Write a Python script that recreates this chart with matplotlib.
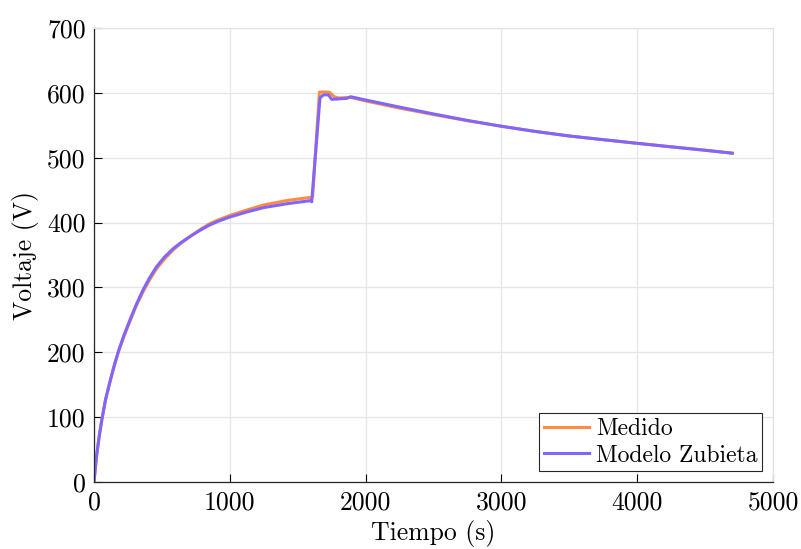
import numpy as np
import matplotlib
matplotlib.use("Agg")
import matplotlib.pyplot as plt

# valores (carga)
t_carga = [0, 10, 20, 38, 57, 85, 118, 148, 179, 220, 265, 310, 363, 410,
           461, 520, 584, 640, 707, 780, 849, 920, 1000, 1120, 1247, 1420, 1600]
v_carga_modelo = [0, 22, 42, 70, 95, 127, 155, 179, 201, 226, 250, 273, 297,
                  315, 332, 347, 360, 369, 378.5, 388, 396, 402.5, 408.5, 416,
                  423, 429, 434]
v_carga_medido = [0, 22, 42, 70, 95, 127, 155, 178, 200, 224, 248, 271, 294,
                  312, 329, 344, 358, 368, 378.5, 389, 398, 404.5, 411, 419,
                  427, 434, 439]

# pico y descarga
t_desc_modelo = [1603, 1664, 1689, 1726, 1750, 1861, 1890, 2000, 2250, 2500,
                 2750, 3000, 3250, 3500, 3750, 4000, 4250, 4500, 4700]
v_desc_modelo = [432, 592, 597, 597, 590, 591.5, 594, 589, 578, 567.5,
                 557.5, 548.5, 540.5, 533.5, 527.8, 522.2, 516.8, 511.5, 507]
t_desc_medido = [1610, 1660, 1690, 1733, 1770, 1800, 1890, 2000, 2250, 2500,
                 2750, 3000, 3250, 3500, 3750, 4000, 4250, 4500, 4700]
v_desc_medido = [440, 601, 601.5, 601, 594, 592, 593, 587.5, 576.5, 566.5,
                 557, 548.5, 540.5, 533.5, 527.8, 522.2, 516.8, 511.5, 507]

t_medido = t_carga + t_desc_medido
v_medido = v_carga_medido + v_desc_medido
t_modelo = t_carga + t_desc_modelo
v_modelo = v_carga_modelo + v_desc_modelo

plt.rcParams['font.family'] = 'serif'
plt.rcParams['font.serif'] = ['cmr10']
plt.rcParams['mathtext.fontset'] = 'cm'
plt.rcParams['axes.unicode_minus'] = False

fig = plt.figure(figsize=(8.01, 5.49), dpi=100)
ax = fig.add_axes([94/801, 67/549, 679/801, 454/549])

ax.plot(t_medido, v_medido, color='#FF8C40', lw=2.2, label='Medido')
ax.plot(t_modelo, v_modelo, color='#8066FF', lw=2.2, label='Modelo Zubieta')

ax.set_xlim(0, 5000)
ax.set_ylim(0, 700)
ax.set_xticks(np.arange(0, 5001, 1000))
ax.set_yticks(np.arange(0, 701, 100))
ax.grid(True, color='#e6e6e6', lw=0.9)
ax.set_axisbelow(True)
ax.tick_params(direction='in', length=6, width=0.8, labelsize=18.5, pad=6)
for s in ['top', 'right']:
    ax.spines[s].set_color('#e0e0e0')
for s in ['left', 'bottom']:
    ax.spines[s].set_color('#262626')
    ax.spines[s].set_linewidth(0.9)

ax.set_xlabel('Tiempo (s)', fontsize=18.5, labelpad=4)
ax.set_ylabel('Voltaje (V)', fontsize=18.5, labelpad=6)

leg = ax.legend(loc='lower right', fontsize=17, fancybox=False, framealpha=1,
                edgecolor='#262626', handlelength=1.9, handletextpad=0.3,
                borderpad=0.2, labelspacing=0.2, borderaxespad=0.45)
leg.get_frame().set_linewidth(0.8)

fig.savefig('out.png', dpi=100)
